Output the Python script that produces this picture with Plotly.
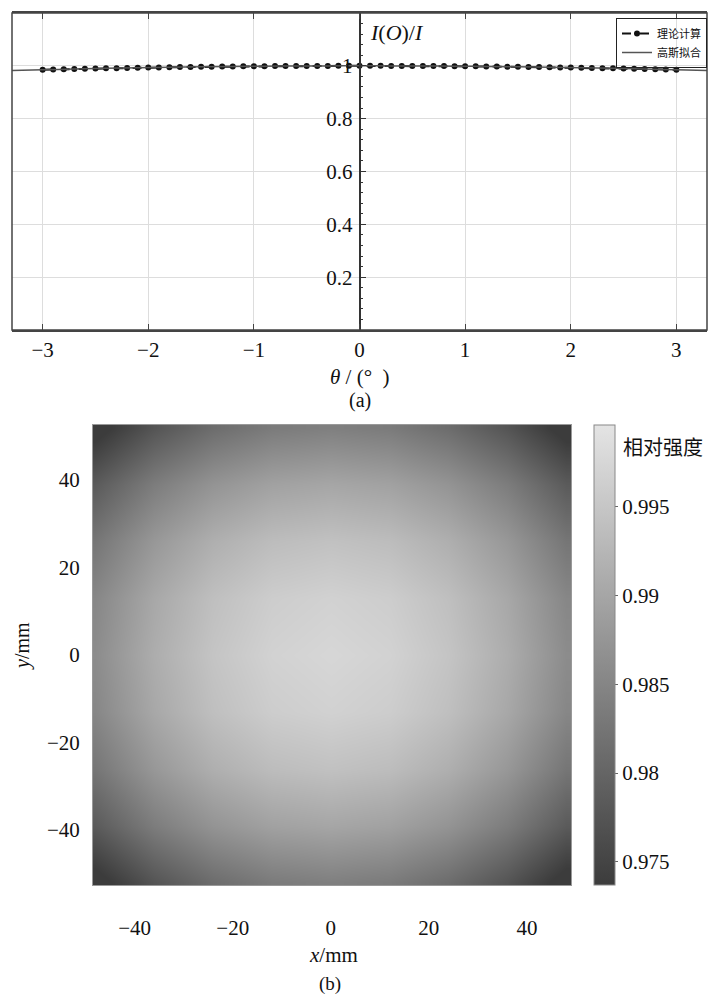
import plotly.graph_objects as go

# ---------- data (a) ----------
theta = [round(-3.0 + 0.1 * i, 1) for i in range(61)]
theory_half = [1.0000, 1.0000, 0.9999, 0.9998, 0.9997, 0.9996, 0.9994, 0.9992, 0.9989, 0.9986,
               0.9983, 0.9980, 0.9976, 0.9972, 0.9967, 0.9962, 0.9957, 0.9952, 0.9946, 0.9940,
               0.9933, 0.9926, 0.9919, 0.9912, 0.9904, 0.9896, 0.9887, 0.9878, 0.9869, 0.9860,
               0.9850]
theory = theory_half[::-1] + theory_half[1:]

fit_theta = [-3.3, -3.0, -2.7, -2.4, -2.1, -1.8, -1.5, -1.2, -0.9, -0.6, -0.3, 0.0,
             0.3, 0.6, 0.9, 1.2, 1.5, 1.8, 2.1, 2.4, 2.7, 3.0, 3.3]
fit_vals = [0.9818, 0.9850, 0.9878, 0.9904, 0.9926, 0.9946, 0.9962, 0.9976, 0.9986, 0.9994, 0.9998, 1.0000,
            0.9998, 0.9994, 0.9986, 0.9976, 0.9962, 0.9946, 0.9926, 0.9904, 0.9878, 0.9850, 0.9818]

x_ticks_a = [-3, -2, -1, 0, 1, 2, 3]
x_tick_text_a = ["−3", "−2", "−1", "0", "1", "2", "3"]
y_ticks_a = [0.2, 0.4, 0.6, 0.8, 1.0]
y_tick_text_a = ["0.2", "0.4", "0.6", "0.8", "1"]

# ---------- data (b) ----------
grid_x = [-48, -36, -24, -12, 0, 12, 24, 36, 48]
grid_y = [-52, -39, -26, -13, 0, 13, 26, 39, 52]
intensity = [
    [0.9722, 0.9775, 0.9812, 0.9834, 0.9841, 0.9834, 0.9812, 0.9775, 0.9722],
    [0.9784, 0.9836, 0.9872, 0.9893, 0.9900, 0.9893, 0.9872, 0.9836, 0.9784],
    [0.9826, 0.9878, 0.9914, 0.9935, 0.9942, 0.9935, 0.9914, 0.9878, 0.9826],
    [0.9852, 0.9903, 0.9939, 0.9960, 0.9967, 0.9960, 0.9939, 0.9903, 0.9852],
    [0.9860, 0.9911, 0.9947, 0.9968, 0.9975, 0.9968, 0.9947, 0.9911, 0.9860],
    [0.9852, 0.9903, 0.9939, 0.9960, 0.9967, 0.9960, 0.9939, 0.9903, 0.9852],
    [0.9826, 0.9878, 0.9914, 0.9935, 0.9942, 0.9935, 0.9914, 0.9878, 0.9826],
    [0.9784, 0.9836, 0.9872, 0.9893, 0.9900, 0.9893, 0.9872, 0.9836, 0.9784],
    [0.9722, 0.9775, 0.9812, 0.9834, 0.9841, 0.9834, 0.9812, 0.9775, 0.9722],
]
x_ticks_b = [-40, -20, 0, 20, 40]
y_ticks_b = [-40, -20, 0, 20, 40]
tick_text_b = ["−40", "−20", "0", "20", "40"]
cbar_ticks = [0.975, 0.98, 0.985, 0.99, 0.995]
cbar_text = ["0.975", "0.98", "0.985", "0.99", "0.995"]

# ---------- layout geometry (page pixels; page body has an 8px margin) ----------
OFF = 8
W, H = 720 - 2 * OFF, 1003 - 2 * OFF
ML, MR, MT, MB = 12 - OFF, 720 - 707 - OFF, 13 - OFF, 1003 - 885 - OFF
PW = W - ML - MR
PH = H - MT - MB


def px_x(p):
    return (p - OFF - ML) / PW


def px_y(p):
    return (H - MB - (p - OFF)) / PH


SERIF = "Liberation Serif"
CJK = "Noto Sans CJK SC"

fig = go.Figure()

fig.add_trace(go.Scatter(
    x=theta, y=theory, mode="lines+markers", name="理论计算",
    line=dict(color="#111111", width=2, dash="dash"),
    marker=dict(color="#111111", size=6),
    xaxis="x", yaxis="y",
))
fig.add_trace(go.Scatter(
    x=fit_theta, y=fit_vals, mode="lines", name="高斯拟合",
    line=dict(color="#555555", width=1.5, shape="spline"),
    xaxis="x", yaxis="y",
))

fig.add_trace(go.Heatmap(
    x=grid_x, y=grid_y, z=intensity, zsmooth="best",
    zmin=0.9737, zmax=0.9996,
    colorscale=[[0, "#3c3c3c"], [1, "#e4e4e4"]],
    xaxis="x2", yaxis="y2", showscale=True,
    colorbar=dict(
        x=px_x(594), xanchor="left", xpad=0,
        y=0, yanchor="bottom", ypad=0,
        lenmode="pixels", len=460, thickness=21,
        outlinecolor="#888888", outlinewidth=1,
        tickvals=cbar_ticks, ticktext=cbar_text,
        ticks="outside", ticklen=3, tickcolor="#666666",
        tickfont=dict(family=SERIF, size=21, color="#111111"),
    ),
))

top_bottom = px_y(330)
heat_top = px_y(425)

fig.update_layout(
    width=W, height=H,
    margin=dict(l=ML, r=MR, t=MT, b=MB),
    paper_bgcolor="white", plot_bgcolor="white",
    showlegend=True,
    legend=dict(
        x=px_x(616), y=px_y(18), xanchor="left", yanchor="top",
        bgcolor="rgba(255,255,255,0)", bordercolor="#222222", borderwidth=1,
        font=dict(family=CJK, size=11, color="#111111"),
        itemwidth=30, tracegroupgap=0,
    ),
    xaxis=dict(
        domain=[0, 1], range=[-3.29, 3.29], anchor="y",
        tickvals=x_ticks_a, ticktext=x_tick_text_a,
        ticks="inside", ticklen=6, tickcolor="#444444",
        showline=True, linecolor="#444444", linewidth=2, mirror="ticks",
        showgrid=True, gridcolor="#dddddd", gridwidth=1,
        zeroline=False,
        tickfont=dict(family=SERIF, size=21, color="#111111"),
        ticklabelstandoff=0,
    ),
    yaxis=dict(
        domain=[top_bottom, 1], range=[0, 1.2], anchor="free", position=0.5,
        tickvals=y_ticks_a, ticktext=y_tick_text_a,
        ticks="inside", ticklen=6, tickcolor="#333333",
        minor=dict(ticks="inside", ticklen=3, dtick=0.04, tick0=0, tickcolor="#333333", showgrid=False),
        showline=True, linecolor="#333333", linewidth=1.5,
        showgrid=True, gridcolor="#dddddd", gridwidth=1,
        zeroline=False,
        tickfont=dict(family=SERIF, size=21, color="#111111"),
        ticklabelstandoff=2,
    ),
    xaxis2=dict(
        domain=[px_x(93), px_x(571)], range=[-48.5, 49], anchor="y2",
        tickvals=x_ticks_b, ticktext=tick_text_b,
        ticks="", showline=True, linecolor="#999999", linewidth=1, mirror=True,
        showgrid=False, zeroline=False,
        tickfont=dict(family=SERIF, size=21, color="#111111"),
        ticklabelstandoff=24,
    ),
    yaxis2=dict(
        domain=[0, heat_top], range=[-52.6, 52.6], anchor="x2",
        tickvals=y_ticks_b, ticktext=tick_text_b,
        ticks="", showline=True, linecolor="#999999", linewidth=1, mirror=True,
        showgrid=False, zeroline=False,
        tickfont=dict(family=SERIF, size=21, color="#111111"),
        ticklabelstandoff=8,
    ),
    shapes=[
        dict(type="rect", xref="x domain", yref="y domain", x0=0, x1=1, y0=0, y1=1,
             line=dict(color="#444444", width=1.5), fillcolor="rgba(0,0,0,0)", layer="above"),
    ],
    annotations=[
        dict(text="<i>I</i>(<i>O</i>)/<i>I</i>", xref="paper", yref="paper",
             x=px_x(368), y=px_y(32), xanchor="left", yanchor="middle", showarrow=False,
             font=dict(family=SERIF, size=22, color="#111111")),
        dict(text="<i>θ</i> / (°  )", xref="paper", yref="paper",
             x=px_x(360), y=px_y(377), xanchor="center", yanchor="middle", showarrow=False,
             font=dict(family=SERIF, size=21, color="#111111")),
        dict(text="(a)", xref="paper", yref="paper",
             x=px_x(360), y=px_y(400), xanchor="center", yanchor="middle", showarrow=False,
             font=dict(family=SERIF, size=20, color="#111111")),
        dict(text="<i>x</i>/mm", xref="paper", yref="paper",
             x=px_x(333), y=px_y(955), xanchor="center", yanchor="middle", showarrow=False,
             font=dict(family=SERIF, size=21, color="#111111")),
        dict(text="(b)", xref="paper", yref="paper",
             x=px_x(330), y=px_y(984), xanchor="center", yanchor="middle", showarrow=False,
             font=dict(family=SERIF, size=19, color="#111111")),
        dict(text="<i>y</i>/mm", xref="paper", yref="paper", textangle=-90,
             x=px_x(22), y=px_y(646), xanchor="center", yanchor="middle", showarrow=False,
             font=dict(family=SERIF, size=20, color="#111111")),
        dict(text="相对强度", xref="paper", yref="paper",
             x=px_x(621), y=px_y(447), xanchor="left", yanchor="middle", showarrow=False,
             font=dict(family=CJK, size=20, color="#111111")),
    ],
)

fig.write_html("out.html")
